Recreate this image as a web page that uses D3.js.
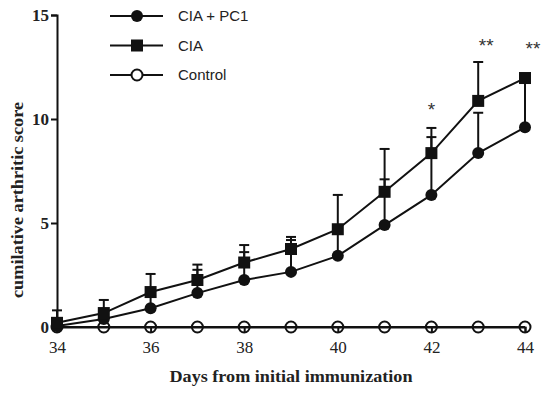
<!DOCTYPE html>
<html>
<head>
<meta charset="utf-8">
<script src="https://cdn.jsdelivr.net/npm/d3@7"></script>
<style>
  body { margin: 0; background: #fff; }
  svg { display: block; }
</style>
</head>
<body>
<div id="chart"></div>
<script>
// values
var days = [34, 35, 36, 37, 38, 39, 40, 41, 42, 43, 44];
var pc1Mean = [0.05, 0.38, 0.9, 1.63, 2.26, 2.65, 3.42, 4.9, 6.35, 8.36, 9.6];
var pc1Sem  = [0.25, 0.25, 0.7, 1.12, 1.34, 1.53, 1.2, 2.2, 2.78, 1.94, 2.3];
var ciaMean = [0.2, 0.67, 1.68, 2.26, 3.1, 3.75, 4.7, 6.5, 8.36, 10.87, 11.97];
var ciaSem  = [0.6, 0.63, 0.87, 0.74, 0.84, 0.58, 1.65, 2.06, 1.21, 1.87, 0];
var controlMean = [0, 0, 0, 0, 0, 0, 0, 0, 0, 0, 0];
var xTicks = [34, 36, 38, 40, 42, 44];
var yTicks = [0, 5, 10, 15];
var sigDays = [42, 43, 44];
var sigLabels = ["*", "**", "**"];
var sigLevel = [10.55, 13.65, 13.5];
var legendNames = ["CIA + PC1", "CIA", "Control"];

var W = 550, H = 394;
var margin = {top: 15, right: 25, bottom: 67, left: 57};
var width = W - margin.left - margin.right,
    height = H - margin.top - margin.bottom;

var svg = d3.select("#chart").append("svg")
    .attr("width", W)
    .attr("height", H);

var g = svg.append("g")
    .attr("transform", "translate(" + margin.left + "," + margin.top + ")");

var x = d3.scaleLinear().domain([34, 44]).range([0, width]);
var y = d3.scaleLinear().domain([0, 15]).range([height, 0]);

var ink = "#111";
var serif = "'Liberation Serif', 'DejaVu Serif', serif";

// axes
var yAxis = g.append("g")
    .call(d3.axisLeft(y).tickValues(yTicks).tickSize(6).tickPadding(2));
yAxis.select(".domain").attr("stroke", ink).attr("stroke-width", 2);
yAxis.selectAll(".tick line").attr("stroke", ink).attr("stroke-width", 2);
yAxis.selectAll(".tick text")
    .attr("fill", "#222")
    .style("font-family", serif)
    .style("font-weight", "bold")
    .style("font-size", "17px");

var xAxis = g.append("g")
    .attr("transform", "translate(0," + height + ")")
    .call(d3.axisBottom(x).tickValues(xTicks).tickSize(6).tickPadding(8).tickFormat(d3.format("d")));
xAxis.select(".domain").attr("stroke", ink).attr("stroke-width", 2);
xAxis.selectAll(".tick line").attr("stroke", ink).attr("stroke-width", 2);
xAxis.selectAll(".tick text")
    .attr("fill", "#222")
    .style("font-family", serif)
    .style("font-size", "17px");

// axis titles
svg.append("text")
    .attr("x", margin.left + width / 2)
    .attr("y", 382)
    .attr("text-anchor", "middle")
    .attr("textLength", 243)
    .attr("lengthAdjust", "spacingAndGlyphs")
    .attr("fill", "#222")
    .style("font-family", serif)
    .style("font-weight", "bold")
    .style("font-size", "17px")
    .text("Days from initial immunization");

svg.append("text")
    .attr("transform", "translate(23,200) rotate(-90)")
    .attr("text-anchor", "middle")
    .attr("textLength", 196)
    .attr("lengthAdjust", "spacingAndGlyphs")
    .attr("fill", "#222")
    .style("font-family", serif)
    .style("font-weight", "bold")
    .style("font-size", "17px")
    .text("cumilative arthritic score");

// build series
function rows(mean, sem) {
    return days.map(function(d, i) { return {day: d, mean: mean[i], sem: sem ? sem[i] : 0}; });
}
var pc1 = rows(pc1Mean, pc1Sem),
    cia = rows(ciaMean, ciaSem),
    control = rows(controlMean, null);

var line = d3.line().x(function(d) { return x(d.day); }).y(function(d) { return y(d.mean); });

function errorBars(data) {
    var eb = g.append("g").selectAll("g")
        .data(data.filter(function(d) { return d.sem > 0; }))
        .enter().append("g");
    eb.append("line")
        .attr("x1", function(d) { return x(d.day); })
        .attr("x2", function(d) { return x(d.day); })
        .attr("y1", function(d) { return y(d.mean); })
        .attr("y2", function(d) { return y(d.mean + d.sem); })
        .attr("stroke", ink).attr("stroke-width", 2);
    eb.append("line")
        .attr("x1", function(d) { return x(d.day) - 5; })
        .attr("x2", function(d) { return x(d.day) + 5; })
        .attr("y1", function(d) { return y(d.mean + d.sem); })
        .attr("y2", function(d) { return y(d.mean + d.sem); })
        .attr("stroke", ink).attr("stroke-width", 2);
}

errorBars(pc1);
errorBars(cia);

[control, pc1, cia].forEach(function(s) {
    g.append("path").datum(s)
        .attr("d", line)
        .attr("fill", "none")
        .attr("stroke", ink)
        .attr("stroke-width", 2);
});

// markers
g.append("g").selectAll("circle").data(control).enter().append("circle")
    .attr("cx", function(d) { return x(d.day); })
    .attr("cy", function(d) { return y(d.mean); })
    .attr("r", 5.5)
    .attr("fill", "none")
    .attr("stroke", ink)
    .attr("stroke-width", 2);

g.append("g").selectAll("circle").data(pc1).enter().append("circle")
    .attr("cx", function(d) { return x(d.day); })
    .attr("cy", function(d) { return y(d.mean); })
    .attr("r", 6)
    .attr("fill", ink);

g.append("g").selectAll("rect").data(cia).enter().append("rect")
    .attr("x", function(d) { return x(d.day) - 6; })
    .attr("y", function(d) { return y(d.mean) - 6; })
    .attr("width", 12)
    .attr("height", 12)
    .attr("fill", ink);

// significance marks
g.append("g").selectAll("text").data(sigDays).enter().append("text")
    .attr("x", function(d, i) { return x(d) + (i > 0 ? 8 : 0); })
    .attr("y", function(d, i) { return y(sigLevel[i]); })
    .attr("dy", "0.45em")
    .attr("text-anchor", "middle")
    .attr("fill", "#333")
    .style("font-family", "'Liberation Sans', Arial, sans-serif")
    .style("font-size", "19px")
    .text(function(d, i) { return sigLabels[i]; });

// legend
var legend = svg.append("g").attr("transform", "translate(110,16)");
var items = legend.selectAll("g").data(legendNames).enter().append("g")
    .attr("transform", function(d, i) { return "translate(0," + (i * 29.5) + ")"; });
items.append("line")
    .attr("x1", 0).attr("x2", 53).attr("y1", 0).attr("y2", 0)
    .attr("stroke", ink).attr("stroke-width", 2);
items.each(function(d, i) {
    var it = d3.select(this);
    if (i === 0) {
        it.append("circle").attr("cx", 27).attr("cy", 0).attr("r", 6).attr("fill", ink);
    } else if (i === 1) {
        it.append("rect").attr("x", 21).attr("y", -6).attr("width", 12).attr("height", 12).attr("fill", ink);
    } else {
        it.append("circle").attr("cx", 27).attr("cy", 0).attr("r", 5.5)
            .attr("fill", "#fff").attr("stroke", ink).attr("stroke-width", 2);
    }
});
items.append("text")
    .attr("x", 68)
    .attr("y", 5)
    .attr("fill", "#222")
    .style("font-family", "'Liberation Sans', Arial, sans-serif")
    .style("font-size", "15px")
    .text(function(d) { return d; });
</script>
</body>
</html>
